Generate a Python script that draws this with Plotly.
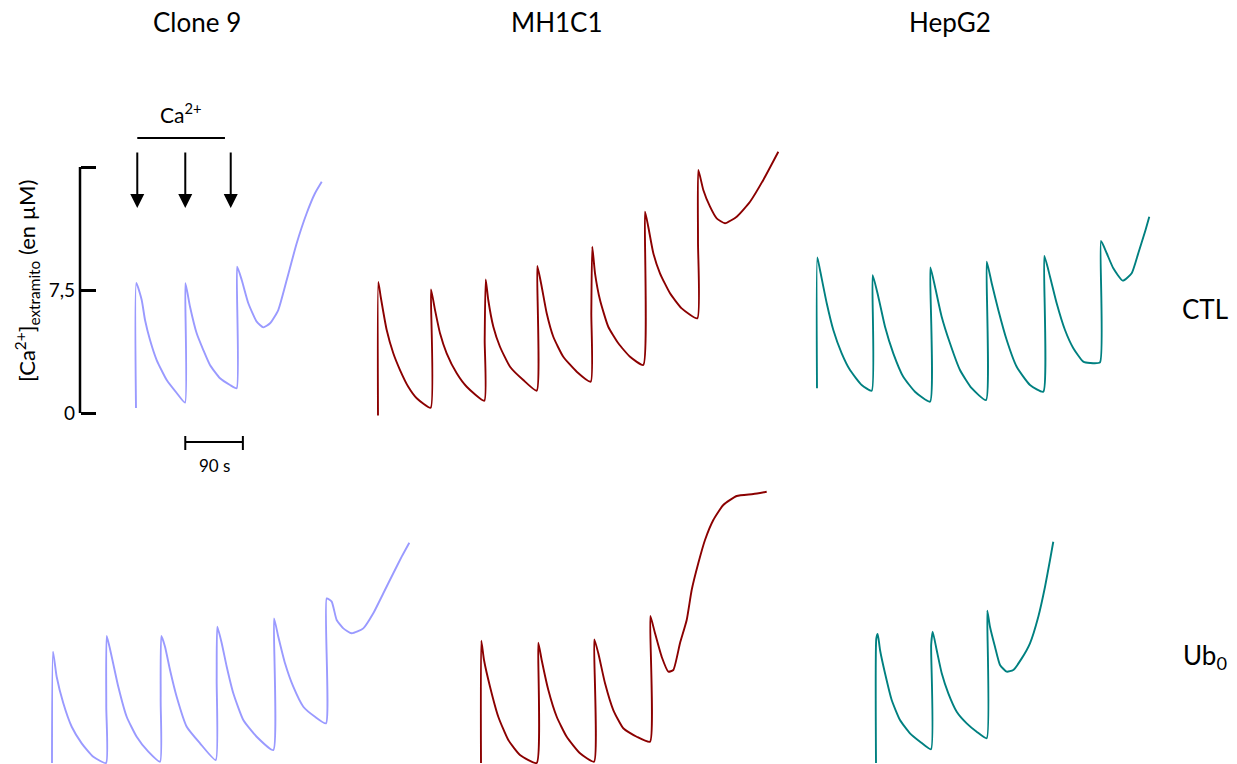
import plotly.graph_objects as go

# ---------------- data (time in s, [Ca2+] in µM) ----------------
columns = ["Clone 9", "MH1C1", "HepG2"]
rows = ["CTL", "Ub<sub>0</sub>"]
colors = ["#9a9aff", "#8b0000", "#008080"]

clone9_ctl_t = [0.0, 0.5, 8.9, 14.1, 21.9, 32.3, 48.0, 63.6, 76.6, 77.2, 84.4, 94.8, 105.2, 115.6, 131.3, 146.9, 157.3,
                158.0, 165.2, 175.5, 188.6, 199.0, 209.4, 222.3, 235.5, 251.1, 266.7, 279.7, 290.2]
clone9_ctl_c = [0.30, 7.93, 6.89, 5.67, 4.45, 3.23, 2.01, 1.22, 0.63, 7.91, 6.48, 4.86, 3.84, 2.93, 2.12, 1.71, 1.51,
                8.92, 8.11, 6.69, 5.57, 5.22, 5.47, 6.28, 8.11, 10.35, 12.18, 13.40, 14.10]

mh1c1_ctl_t = [0.0, 0.5, 4.2, 13.6, 23.9, 34.4, 47.3, 60.5, 82.3, 82.8, 89.1, 96.9, 107.3, 123.0, 138.6, 166.1,
               166.7, 168.3, 172.3, 180.2, 190.6, 206.3, 227.0, 248.0, 248.9, 255.8, 263.6, 273.9, 289.5, 310.5, 332.3,
               333.3, 334.8, 339.1, 346.9, 359.8, 375.5, 393.8, 414.5, 417.2, 422.3, 430.2, 440.6, 456.3, 474.5, 498.9,
               500.0, 500.5, 508.3, 518.8, 529.2, 542.2, 560.5, 581.3, 602.0, 625.5]
mh1c1_ctl_c = [-0.15, 7.99, 7.09, 5.06, 3.64, 2.62, 1.60, 0.90, 0.32, 7.54, 6.28, 4.86, 3.64, 2.42, 1.60, 0.75,
               4.45, 8.15, 6.89, 5.26, 4.04, 2.82, 2.01, 1.36, 8.96, 7.70, 6.08, 4.65, 3.43, 2.52, 1.91,
               6.10, 10.14, 8.52, 6.89, 5.26, 4.25, 3.43, 2.93, 12.27, 11.36, 9.74, 8.52, 7.30, 6.38, 5.77,
               10.45, 14.82, 13.60, 12.58, 11.87, 11.57, 11.97, 12.88, 14.21, 15.93]

hepg2_ctl_t = [0.0, 0.5, 4.7, 15.2, 25.5, 38.6, 51.6, 69.8, 85.5, 87.0, 95.8, 106.3, 119.2, 134.8, 153.1, 176.6,
               177.1, 184.4, 194.8, 207.8, 223.4, 241.7, 264.1, 265.2, 273.0, 283.3, 296.4, 312.0, 332.8, 353.6,
               355.2, 364.1, 374.5, 387.5, 400.5, 416.1, 426.6, 442.2, 443.8, 452.7, 463.0, 477.7, 491.7, 502.0,
               512.5, 519.2]
hepg2_ctl_c = [1.51, 9.49, 8.72, 6.69, 5.06, 3.64, 2.62, 1.71, 1.36, 8.41, 7.09, 5.26, 3.64, 2.21, 1.30, 0.69,
               8.88, 7.70, 5.87, 4.25, 2.62, 1.51, 0.79, 9.23, 7.91, 6.28, 4.45, 2.82, 1.71, 1.30,
               9.57, 8.31, 6.69, 5.06, 3.95, 3.13, 3.05, 3.09, 10.49, 9.74, 8.82, 8.07, 8.52, 9.74,
               11.05, 11.97]

clone9_ub0_t = [0.0, 1.6, 7.3, 17.7, 30.8, 46.4, 64.5, 84.4, 84.8, 85.5, 93.3, 103.6, 116.7, 132.3, 150.5, 168.8,
                169.8, 170.8, 176.6, 184.4, 194.8, 210.5, 231.3, 255.8, 257.3, 258.3, 265.2, 273.0, 283.3, 298.9,
                319.8, 345.8, 346.9, 353.6, 364.1, 377.0, 392.7, 410.9, 428.1, 429.2, 437.0, 444.8, 455.2, 468.3,
                486.4, 502.0, 517.7, 533.3, 546.4, 558.3]
clone9_ub0_c = [0.0, 6.79, 5.26, 3.64, 2.21, 1.20, 0.38, 0.0, 3.43, 7.74, 6.48, 4.65, 2.82, 1.60, 0.69, 0.08,
                3.84, 7.74, 7.09, 5.67, 4.04, 2.21, 1.20, 0.18, 5.06, 8.31, 7.30, 5.87, 4.25, 2.62,
                1.60, 0.79, 8.82, 7.70, 6.08, 4.65, 3.43, 2.82, 2.42, 10.04, 9.84, 8.72, 8.21, 7.91,
                8.21, 9.13, 10.35, 11.57, 12.58, 13.43]

mh1c1_ub0_t = [0.0, 0.5, 4.7, 14.1, 27.0, 42.7, 60.9, 87.0, 89.5, 94.8, 105.2, 118.3, 133.9, 154.7, 176.6,
               177.0, 183.3, 193.8, 206.7, 222.3, 243.3, 264.1, 264.6, 271.9, 282.3, 292.7, 300.5, 310.9, 321.4,
               329.2, 339.5, 350.0, 363.0, 378.6, 399.5, 425.5, 446.4]
mh1c1_ub0_c = [0.0, 7.46, 6.28, 4.65, 2.82, 1.40, 0.49, 0.0, 7.34, 6.28, 4.45, 2.82, 1.60, 0.59, 0.08,
               7.54, 6.69, 4.86, 3.23, 2.12, 1.60, 1.30, 8.96, 7.91, 6.48, 5.57, 5.67, 7.30, 8.72,
               10.55, 12.18, 13.60, 14.82, 15.73, 16.28, 16.40, 16.54]

hepg2_ub0_t = [0.0, 0.5, 2.7, 6.3, 14.1, 24.5, 37.5, 53.1, 68.8, 85.9, 86.2, 88.6, 94.8, 102.7, 113.0, 126.1,
               141.7, 157.3, 173.0, 173.9, 178.1, 185.9, 193.8, 204.2, 214.5, 227.7, 240.6, 253.6, 264.1,
               271.9, 277.0]
hepg2_ub0_c = [0.0, 7.60, 7.87, 6.89, 5.47, 3.84, 2.62, 1.81, 1.30, 0.84, 7.20, 8.01, 6.89, 5.47, 4.25, 3.13,
               2.42, 1.91, 1.51, 9.29, 8.31, 7.09, 5.98, 5.57, 5.67, 6.38, 7.30, 8.92, 10.75,
               12.38, 13.49]

y_ticks = [0, 7.5, 15]
y_tick_labels = ["0", "7,5", ""]
ca_addition_marks_s = [2, 77, 148]
scale_bar_s = 90

# ---------------- layout geometry ----------------
W, H = 1237, 764
PX_PER_S = 0.64      # horizontal scale (from the 90 s bar)
PX_PER_UM = 16.4     # vertical scale (0 -> 7,5 µM)
FONT = "Lato"
Y_PAD = 0.3          # small extension so the end ticks are not clipped

panels = [
    # (t, c, color index, row, origin x px)
    (clone9_ctl_t, clone9_ctl_c, 0, 0, 136),
    (mh1c1_ctl_t, mh1c1_ctl_c, 1, 0, 378),
    (hepg2_ctl_t, hepg2_ctl_c, 2, 0, 817),
    (clone9_ub0_t, clone9_ub0_c, 0, 1, 52),
    (mh1c1_ub0_t, mh1c1_ub0_c, 1, 1, 481),
    (hepg2_ub0_t, hepg2_ub0_c, 2, 1, 876),
]
baseline_px = [413, 763]
AXIS_X_PX = 80


def py(px):
    return 1 - px / H


fig = go.Figure()
layout = {}
for i, (t, c, ci, row, x0) in enumerate(panels, start=1):
    xname = "x" if i == 1 else f"x{i}"
    yname = "y" if i == 1 else f"y{i}"
    fig.add_trace(go.Scatter(x=t, y=c, mode="lines", xaxis=xname, yaxis=yname,
                             line=dict(color=colors[ci], width=1.9, shape="spline", smoothing=0.5),
                             showlegend=False, hoverinfo="skip"))
    layout[f"xaxis{i if i > 1 else ''}"] = dict(
        domain=[0, 1], range=[-x0 / PX_PER_S, (W - x0) / PX_PER_S], visible=False,
        anchor=yname, fixedrange=True, automargin=False)
    base = baseline_px[row]
    if i == 1:
        lo, hi = -Y_PAD, 15 + Y_PAD
        layout["yaxis"] = dict(
            domain=[py(base - lo * PX_PER_UM), py(base - hi * PX_PER_UM)], range=[lo, hi],
            anchor="free", position=AXIS_X_PX / W, showline=False,
            ticks="inside", ticklen=15, tickwidth=2.5, tickcolor="black",
            tickvals=y_ticks, ticktext=y_tick_labels, showgrid=False, zeroline=False,
            ticklabelstandoff=5,
            tickfont=dict(family=FONT, size=19, color="black"), fixedrange=True, automargin=False)
    else:
        layout[f"yaxis{i}"] = dict(
            domain=[0, 1], range=[-(H - base) / PX_PER_UM, base / PX_PER_UM], visible=False,
            anchor=xname, fixedrange=True, automargin=False)

annotations = []
col_centers_px = [197, 557, 950]
for name, cx in zip(columns, col_centers_px):
    annotations.append(dict(text=name, x=cx / W, y=py(21.5), xref="paper", yref="paper",
                            showarrow=False, xanchor="center", yanchor="middle",
                            font=dict(family=FONT, size=26, color="black")))
for name, cy in zip(rows, [309, 656]):
    annotations.append(dict(text=name, x=1205 / W, y=py(cy), xref="paper", yref="paper",
                            showarrow=False, xanchor="center", yanchor="middle",
                            font=dict(family=FONT, size=26, color="black")))
annotations.append(dict(text="[Ca<sup>2+</sup>]<sub>extramito</sub> (en µM)", textangle=-90,
                        x=27 / W, y=py(281), xref="paper", yref="paper", showarrow=False,
                        xanchor="center", yanchor="middle",
                        font=dict(family=FONT, size=22, color="black")))
annotations.append(dict(text="Ca<sup>2+</sup>", x=71, y=py(113), xref="x", yref="paper",
                        showarrow=False, xanchor="center", yanchor="middle",
                        font=dict(family=FONT, size=21, color="black")))
for ts in ca_addition_marks_s:
    annotations.append(dict(text="", x=ts, y=py(208), xref="x", yref="paper", showarrow=True,
                            ax=0, ay=-57, arrowhead=2, arrowsize=1.4, arrowwidth=2,
                            arrowcolor="black"))
bar_start = 77
annotations.append(dict(text="90 s", x=bar_start + scale_bar_s / 2, y=py(465), xref="x", yref="paper",
                        showarrow=False, xanchor="center", yanchor="middle",
                        font=dict(family=FONT, size=17, color="black")))

shapes = [
    # vertical line of the concentration scale (0 -> 15 µM)
    dict(type="line", xref="paper", yref="y", x0=AXIS_X_PX / W, x1=AXIS_X_PX / W, y0=y_ticks[0], y1=y_ticks[-1],
         line=dict(color="black", width=2.5)),
    dict(type="line", xref="x", yref="paper", x0=2, x1=139, y0=py(138), y1=py(138),
         line=dict(color="black", width=2)),
    dict(type="line", xref="x", yref="paper", x0=bar_start, x1=bar_start + scale_bar_s,
         y0=py(442), y1=py(442), line=dict(color="black", width=2)),
    dict(type="line", xref="x", yref="paper", x0=bar_start, x1=bar_start,
         y0=py(436), y1=py(450), line=dict(color="black", width=2)),
    dict(type="line", xref="x", yref="paper", x0=bar_start + scale_bar_s, x1=bar_start + scale_bar_s,
         y0=py(436), y1=py(450), line=dict(color="black", width=2)),
]

fig.update_layout(template="none", width=W, height=H, autosize=False,
                  margin=dict(l=0, r=0, t=0, b=0, pad=0, autoexpand=False),
                  paper_bgcolor="white", plot_bgcolor="rgba(0,0,0,0)",
                  annotations=annotations, shapes=shapes, showlegend=False, **layout)

fig.write_html("out.html", config={"displayModeBar": False},
               post_script="document.body.style.margin='0';document.documentElement.style.overflow='hidden';")
